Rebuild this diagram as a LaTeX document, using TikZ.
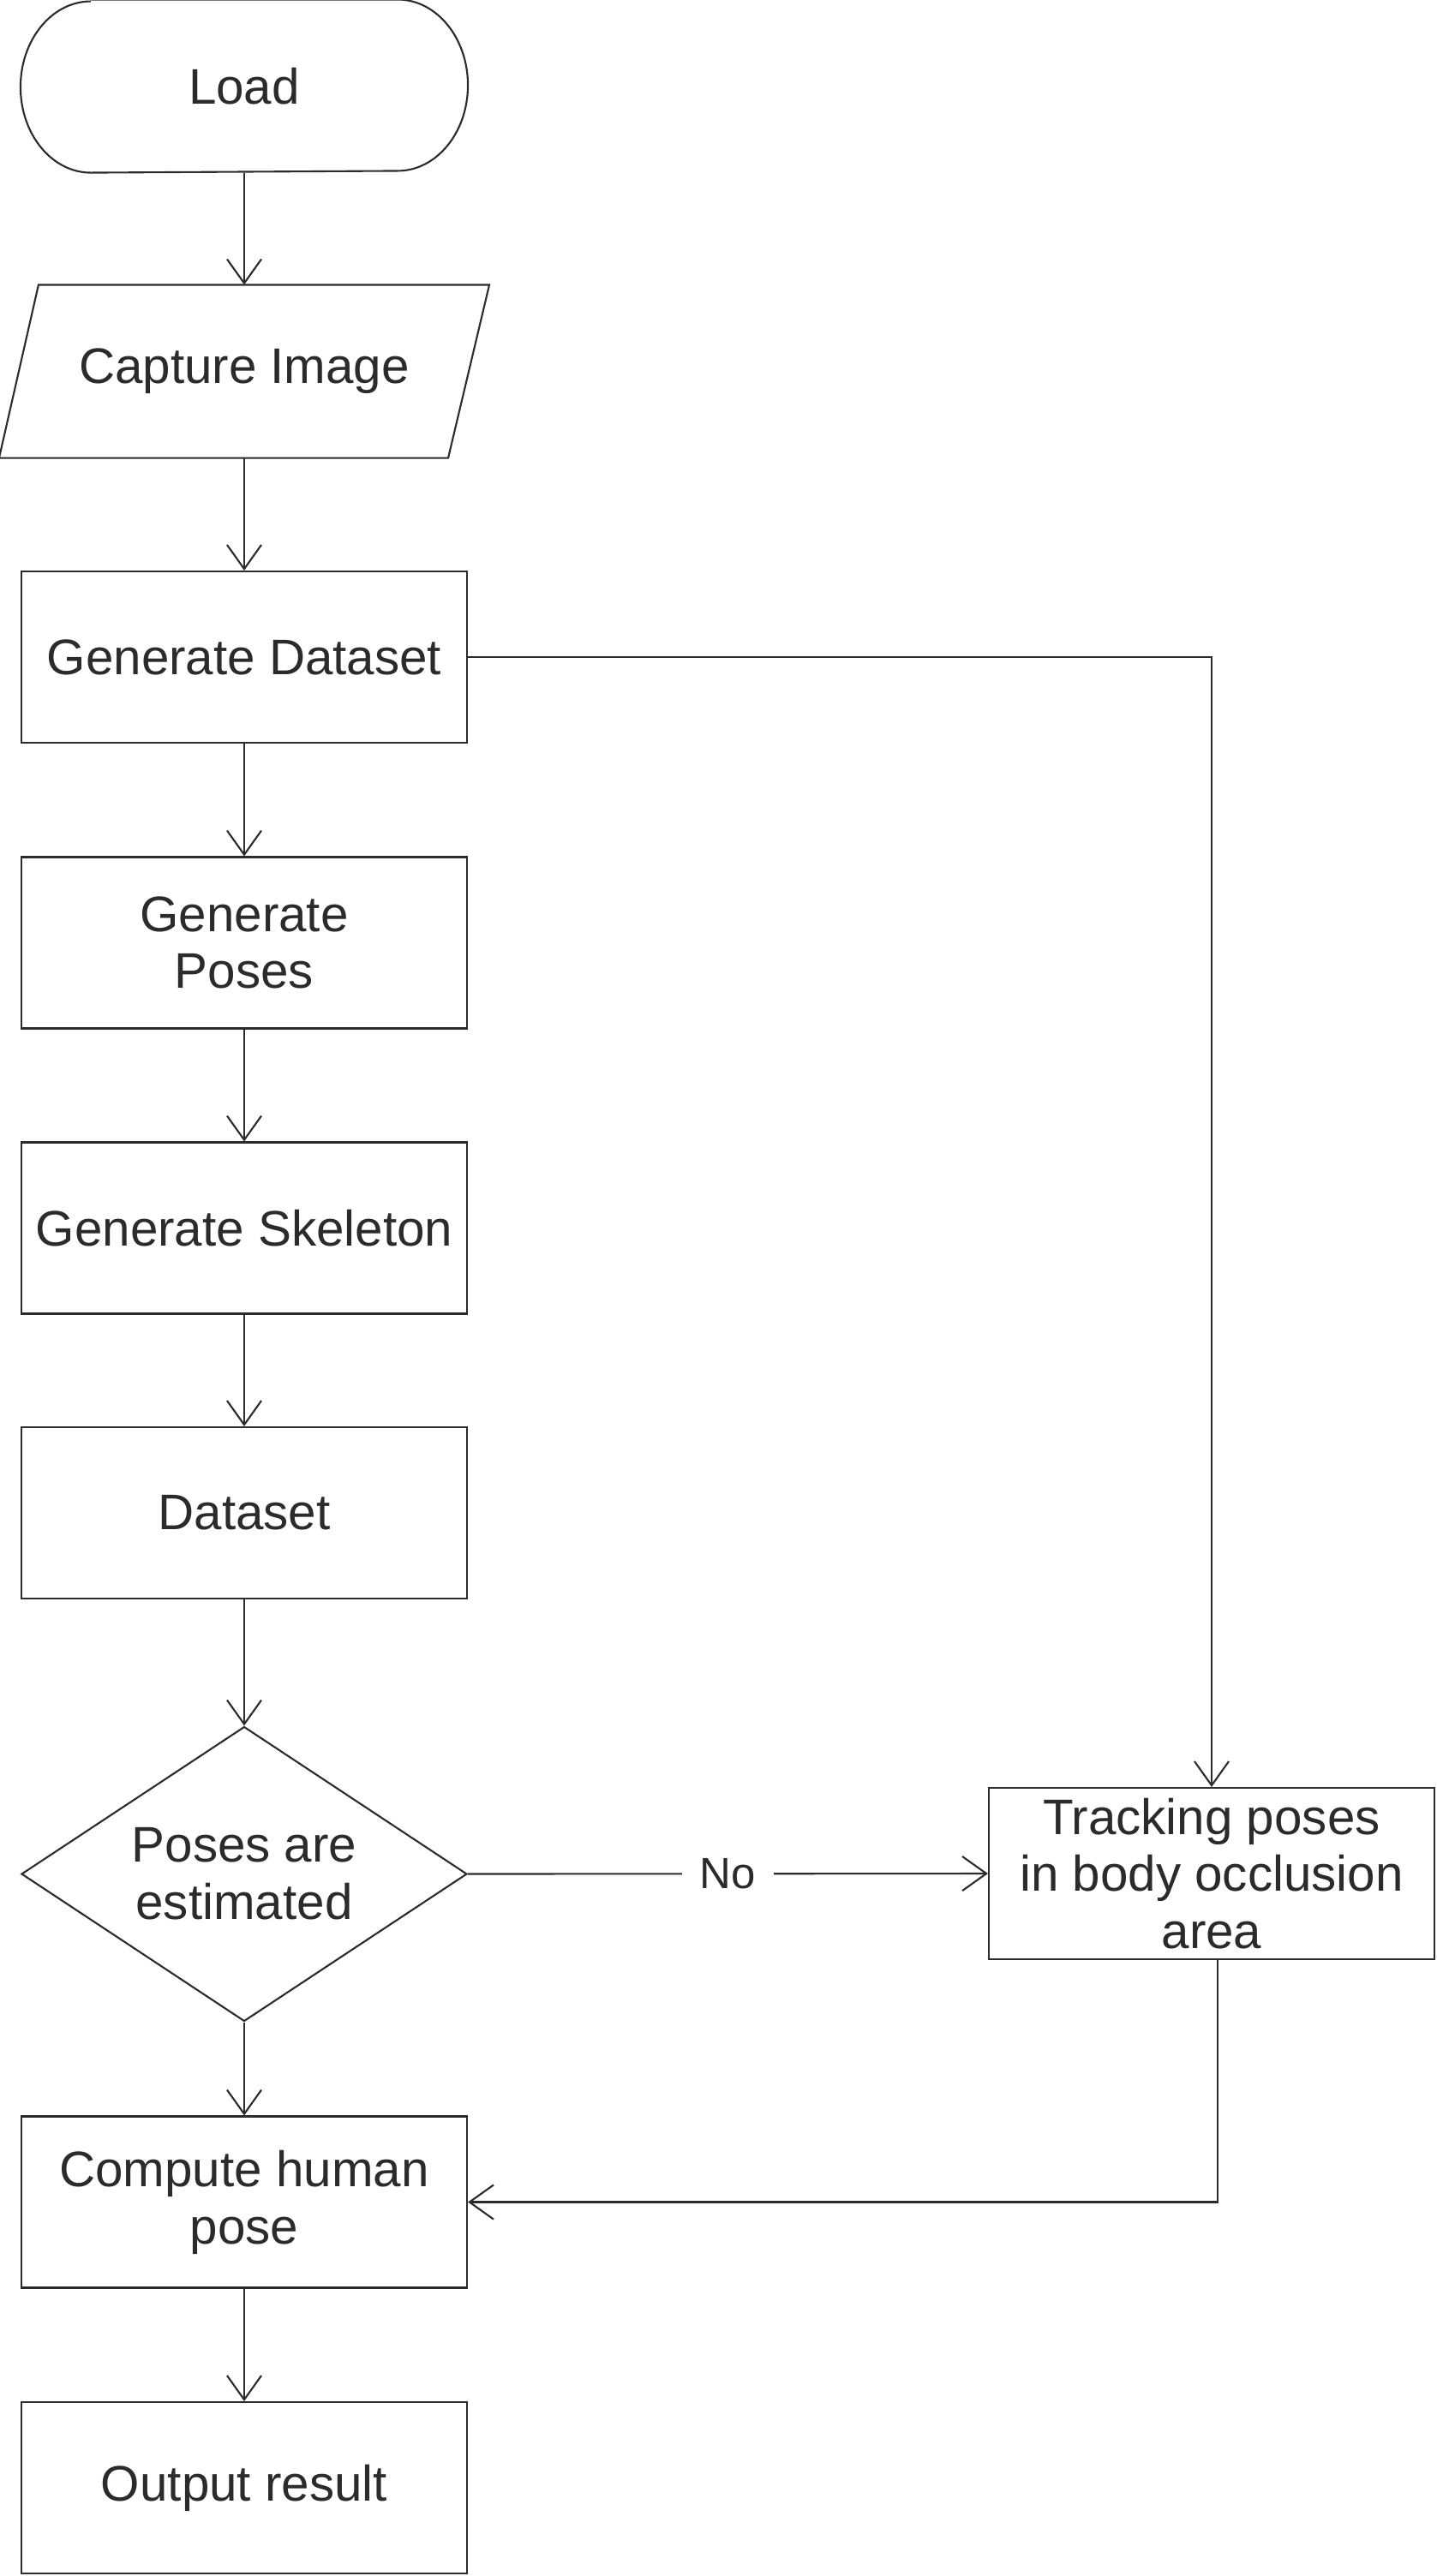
\documentclass[tikz,border=0pt]{standalone}
\usepackage{fontspec}
\setmainfont{Liberation Sans}
\usepackage{xcolor}
\usepackage{tikz}
\usetikzlibrary{arrows.meta,positioning,shapes.geometric}

\definecolor{inkGray}{HTML}{2B2B2B}

\begin{document}
\begin{tikzpicture}[
  x=1cm,
  y=1cm,
  line width=0.6pt,
  every node/.style={text=inkGray, font=\fontsize{16.6}{19}\selectfont, align=center},
  procBox/.style={rectangle, draw=inkGray, minimum width=5.2cm, minimum height=2.0cm, inner sep=2pt},
  plainBox/.style={rectangle, minimum width=5.2cm, minimum height=2.0cm, inner sep=2pt},
  decisionBox/.style={diamond, draw=inkGray, aspect=1.51, inner sep=0pt, minimum width=5.2cm, minimum height=3.44cm},
  flowArrow/.style={draw=inkGray, -{Straight Barb[length=8pt,width=11.4pt]}},
  edgeLabel/.style={fill=white, inner sep=6pt, font=\fontsize{14.5}{16}\selectfont}
]
\useasboundingbox (0,0) rectangle (16.76,-30.07);

\node[plainBox] (load) at (2.85,-1.005) {Load};
\draw[inkGray] ([xshift=0.82cm]load.north west) -- ([xshift=-0.82cm]load.north east)
  arc[start angle=90, end angle=-90, x radius=0.82cm, y radius=1.0cm]
  -- ([xshift=0.82cm]load.south west)
  arc[start angle=270, end angle=90, x radius=0.82cm, y radius=1.0cm];
\node[plainBox] (capture) at (2.85,-4.335) {Capture Image};
\draw[inkGray] ([xshift=0.21cm]capture.north west) -- ([xshift=0.25cm]capture.north east)
  -- ([xshift=-0.23cm]capture.south east) -- ([xshift=-0.25cm]capture.south west) -- cycle;
\node[procBox] (genData) at (2.85,-7.67) {Generate Dataset};
\node[procBox] (genPoses) at (2.85,-11.005) {Generate\\Poses};
\node[procBox] (genSkel) at (2.85,-14.335) {Generate Skeleton};
\node[procBox] (dataset) at (2.85,-17.66) {Dataset};
\node[decisionBox] (estimated) at (2.85,-21.875) {Poses are\\estimated};
\node[procBox] (tracking) at (14.14,-21.87) {Tracking poses\\in body occlusion\\area};
\node[procBox] (compute) at (2.85,-25.705) {Compute human\\pose};
\node[procBox] (output) at (2.85,-29.04) {Output result};

\draw[flowArrow] (load) -- (capture);
\draw[flowArrow] (capture) -- (genData);
\draw[flowArrow] (genData) -- (genPoses);
\draw[flowArrow] (genPoses) -- (genSkel);
\draw[flowArrow] (genSkel) -- (dataset);
\draw[flowArrow] (dataset) -- (estimated);
\draw[flowArrow] (estimated) -- (compute);
\draw[flowArrow] (compute) -- (output);

\draw[flowArrow] (genData.east) -| (tracking.north);
\draw[flowArrow] (estimated.east) -- node[edgeLabel] (noLab) {No} (tracking.west);
\draw[flowArrow] ([xshift=0.07cm]tracking.south) |- (compute.east);
\end{tikzpicture}
\end{document}
